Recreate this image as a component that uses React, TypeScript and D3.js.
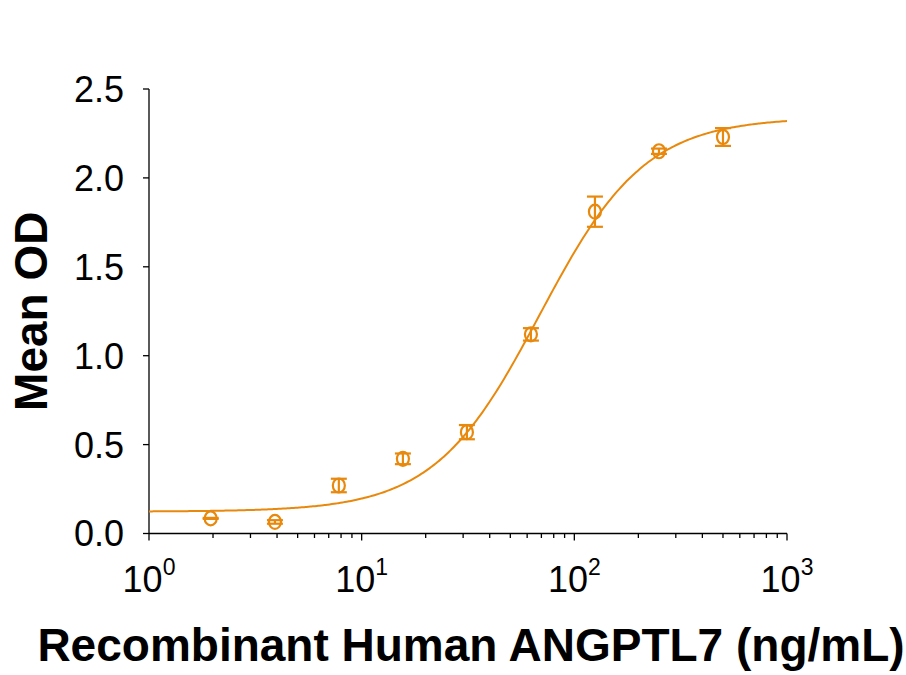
import React, { useEffect, useRef } from 'react';
import * as d3 from 'd3';

// Two-fold dilution series (ng/mL) and measured OD
const concentrations = [500, 250, 125, 62.5, 31.25, 15.63, 7.81, 3.91, 1.95];
const meanOD = [2.23, 2.15, 1.81, 1.12, 0.57, 0.42, 0.27, 0.065, 0.085];
const errorOD = [0.05, 0.015, 0.085, 0.035, 0.04, 0.03, 0.038, 0.01, 0.003];

// Four-parameter logistic fit
const fitBottom = 0.123;
const fitTop = 2.34;
const fitEC50 = 68.8;
const fitHill = 1.75;

const yTicks = [0, 0.5, 1.0, 1.5, 2.0, 2.5];
const xDecades = [0, 1, 2, 3];

const ORANGE = '#E8890E';
const FONT = "Arial, 'Liberation Sans', sans-serif";

function App() {
  const svgRef = useRef<SVGSVGElement>(null);

  useEffect(() => {
    document.body.style.margin = '0';
    if (!svgRef.current) return;
    const svg = d3.select(svgRef.current);
    svg.selectAll('*').remove();

    const x = d3.scaleLog().domain([1, 1000]).range([149, 787]);
    const y = d3.scaleLinear().domain([0, 2.5]).range([533.5, 89]);

    // Axes
    const axes = svg.append('g').attr('stroke', '#000').attr('stroke-width', 1.3);
    axes.append('line').attr('x1', x(1)).attr('x2', x(1)).attr('y1', y(2.5)).attr('y2', y(0));
    axes.append('line').attr('x1', x(1)).attr('x2', x(1000)).attr('y1', y(0)).attr('y2', y(0));

    yTicks.forEach((t) => {
      axes.append('line').attr('x1', x(1) - 6).attr('x2', x(1)).attr('y1', y(t)).attr('y2', y(t));
      svg.append('text')
        .attr('x', 124)
        .attr('y', y(t))
        .attr('dy', '0.36em')
        .attr('text-anchor', 'end')
        .style('font-family', FONT)
        .style('font-size', '36px')
        .text(t.toFixed(1));
    });

    // Major and minor log ticks along the x axis
    for (let d = 0; d < 3; d++) {
      for (let m = 1; m <= 9; m++) {
        const v = m * Math.pow(10, d);
        axes.append('line')
          .attr('x1', x(v)).attr('x2', x(v))
          .attr('y1', y(0)).attr('y2', y(0) + (m === 1 ? 7 : 4.5));
      }
    }
    axes.append('line').attr('x1', x(1000)).attr('x2', x(1000)).attr('y1', y(0)).attr('y2', y(0) + 7);

    xDecades.forEach((d) => {
      const t = svg.append('text')
        .attr('x', x(Math.pow(10, d)))
        .attr('y', 592)
        .attr('text-anchor', 'middle')
        .style('font-family', FONT)
        .style('font-size', '36px');
      t.append('tspan').text('10');
      t.append('tspan').attr('dy', -17).style('font-size', '23px').text(String(d));
    });

    // Axis titles
    svg.append('text')
      .attr('transform', `translate(47,${(y(0) + y(2.5)) / 2}) rotate(-90)`)
      .attr('text-anchor', 'middle')
      .style('font-family', FONT)
      .style('font-size', '46px')
      .style('font-weight', 'bold')
      .text('Mean OD');

    svg.append('text')
      .attr('x', 471)
      .attr('y', 661)
      .attr('text-anchor', 'middle')
      .style('font-family', FONT)
      .style('font-size', '46px')
      .style('font-weight', 'bold')
      .text('Recombinant Human ANGPTL7 (ng/mL)');

    // Fitted curve
    const logistic = (c: number) => fitTop + (fitBottom - fitTop) / (1 + Math.pow(c / fitEC50, fitHill));
    const curveX = d3.range(0, 3.0001, 0.01).map((e) => Math.pow(10, e));
    const line = d3.line<number>().x((c) => x(c)).y((c) => y(logistic(c))).curve(d3.curveMonotoneX);
    svg.append('path')
      .datum(curveX)
      .attr('d', line)
      .attr('fill', 'none')
      .attr('stroke', ORANGE)
      .attr('stroke-width', 2);

    // Error bars and markers
    const pts = svg.append('g').attr('stroke', ORANGE).attr('stroke-width', 2.2).attr('fill', 'none');
    concentrations.forEach((c, i) => {
      const cx = x(c);
      const lo = y(meanOD[i] - errorOD[i]);
      const hi = y(meanOD[i] + errorOD[i]);
      pts.append('line').attr('x1', cx).attr('x2', cx).attr('y1', lo).attr('y2', hi);
      pts.append('line').attr('x1', cx - 8).attr('x2', cx + 8).attr('y1', lo).attr('y2', lo);
      pts.append('line').attr('x1', cx - 8).attr('x2', cx + 8).attr('y1', hi).attr('y2', hi);
      pts.append('ellipse').attr('cx', cx).attr('cy', y(meanOD[i])).attr('rx', 6).attr('ry', 7);
    });
  }, []);

  return <svg ref={svgRef} width={906} height={675} style={{ display: 'block', background: '#fff' }} />;
}

export default App;
